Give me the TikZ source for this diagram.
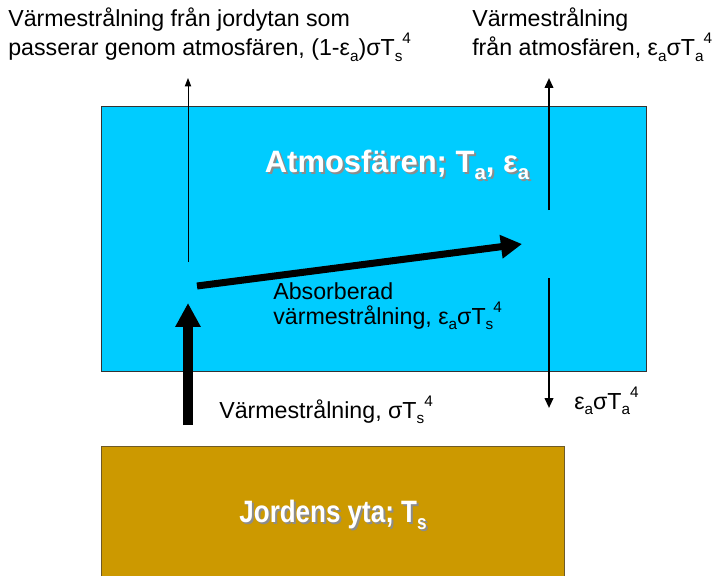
\documentclass[tikz,border=0pt]{standalone}
\usepackage{fontspec}
\setmainfont{Liberation Sans}
\definecolor{atmcyan}{HTML}{00CCFF}
\definecolor{groundgold}{HTML}{CC9900}
\definecolor{groundedge}{HTML}{6E5A28}
\usetikzlibrary{positioning,arrows.meta}
\newcommand{\lo}[1]{\raisebox{-0.25em}{\scalebox{0.66}{#1}}}
\newcommand{\hi}[1]{\raisebox{0.5em}{\scalebox{0.66}{#1}}}

\begin{document}
\begin{tikzpicture}[
  x=0.025cm, y=-0.025cm,
  layer/.style={draw, line width=0.6pt, inner sep=0, anchor=north west},
  txt/.style={font=\fontsize{16.5}{17.8}\selectfont, align=left, inner sep=0, anchor=north west},
  title/.style={font=\fontsize{22}{26}\selectfont\bfseries, text=white, inner sep=0},
  shade/.style={title, text=black!45},
  thinarrow/.style={-{Triangle[width=4.5pt,length=6pt]}, line width=0.7pt},
  midarrow/.style={-{Triangle[width=6pt,length=7pt]}, line width=1.4pt},
  fatarrow/.style={-{Triangle[width=16pt,length=15pt]}, line width=5pt}
]
  \useasboundingbox (0,0) rectangle (715,575);

  % layers
  \node[layer, fill=atmcyan, draw=black!80, minimum width=13.625cm, minimum height=6.625cm] (atm) at (101,106) {};
  \node[layer, fill=groundgold, draw=groundedge, minimum width=11.575cm, minimum height=3.3cm] (ground) at (101,446) {};

  \node[shade] (atmshadow) at (399,167) {Atmosfären; T\lo{a}, ε\lo{a}};
  \node[title] (atmtitle) at (397,165) {Atmosfären; T\lo{a}, ε\lo{a}};
  \node[shade] (groundshadow) at (335,517) {\scalebox{0.84}[1]{Jordens yta; T\lo{s}}};
  \node[title] (groundtitle) at (333,515) {\scalebox{0.84}[1]{Jordens yta; T\lo{s}}};

  % arrow ends
  \coordinate (surfup) at (188,425);
  \coordinate (surftip) at (188,303);
  \coordinate (absstart) at (197,286);
  \coordinate (absend) at (522,244);
  \coordinate (passbot) at (188,262);
  \coordinate (passtop) at (188,78);
  \coordinate (atmupbot) at (549,210);
  \coordinate (atmuptop) at (549,78);
  \coordinate (atmdowntop) at (549,278);
  \coordinate (atmdownbot) at (549,408);

  \draw[fatarrow, line width=7pt, -{Triangle[width=17pt,length=17pt]}] (surfup) -- (surftip);
  \draw[fatarrow] (absstart) -- (absend);
  \draw[thinarrow] (passbot) -- (passtop);
  \draw[midarrow] (atmupbot) -- (atmuptop);
  \draw[midarrow] (atmdowntop) -- (atmdownbot);

  % labels
  \node[txt] (passlabel) at (8,8) {Värmestrålning från jordytan som\\passerar genom atmosfären, (1-ε\lo{a})σT\lo{s}\hi{4}};
  \node[txt] (atmuplabel) at (472,8) {Värmestrålning\\från atmosfären, ε\lo{a}σT\lo{a}\hi{4}};
  \node[txt] (abslabel) at (273,282) {Absorberad\\värmestrålning, ε\lo{a}σT\lo{s}\hi{4}};
  \node[txt, anchor=base west] (surflabel) at (219,418) {Värmestrålning, σT\lo{s}\hi{4}};
  \node[txt, anchor=base west] (atmdownlabel) at (574,409) {ε\lo{a}σT\lo{a}\hi{4}};
\end{tikzpicture}
\end{document}
